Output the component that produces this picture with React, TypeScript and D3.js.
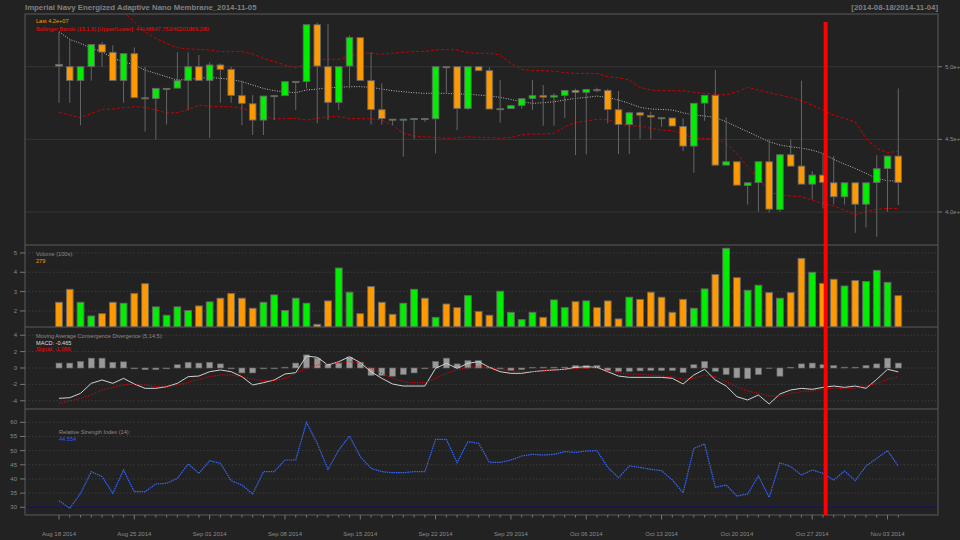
import React, { useEffect, useRef } from 'react';
import * as d3 from 'd3';

// daily bars, Aug 18 .. Nov 04 2014, prices in millions
const firstDay = new Date(2014, 7, 18);
const lastDay = new Date(2014, 10, 4);

const opens = [
  50.16, 50.0, 49.06, 50.02, 51.52, 50.99, 49.06, 50.9, 47.86, 47.82,
  48.5, 48.53, 49.06, 50.0, 49.06, 50.12, 49.82, 48.01, 47.45, 46.33,
  48.0, 48.01, 48.98, 48.99, 52.89, 50.0, 47.55, 50.05, 52.0, 49.04,
  47.04, 46.39, 46.37, 46.42, 46.43, 46.42, 50.0, 50.0, 47.13, 50.0,
  49.73, 47.1, 47.13, 47.34, 47.82, 48.01, 47.91, 48.03, 48.37, 48.24,
  48.42, 48.37, 47.04, 46.03, 46.83, 46.65, 46.49, 46.47, 45.89, 44.54,
  47.5, 48.03, 43.23, 43.46, 41.83, 42.04, 43.46, 40.18, 43.94, 43.16,
  41.92, 42.54, 42.01, 41.05, 42.01, 40.54, 42.04, 43.0, 43.85,
];
const highs = [
  52.41, 51.88, 50.0, 51.52, 51.7, 51.47, 50.9, 51.33, 50.0, 48.51,
  48.51, 50.99, 50.99, 50.81, 50.3, 50.23, 50.0, 49.04, 48.05, 47.98,
  48.01, 48.97, 48.99, 52.89, 53.03, 52.94, 50.0, 52.16, 52.0, 50.99,
  48.86, 46.39, 46.39, 46.43, 46.43, 50.0, 50.0, 50.0, 50.0, 50.0,
  49.96, 49.08, 47.32, 47.8, 49.08, 48.74, 48.17, 48.37, 48.49, 48.44,
  48.56, 48.49, 48.33, 46.9, 46.9, 46.9, 46.49, 46.47, 46.44, 47.48,
  48.03, 49.77, 46.51, 43.46, 42.01, 43.46, 45.0, 43.94, 45.0, 49.04,
  42.82, 44.03, 43.85, 42.01, 42.01, 42.01, 43.92, 43.85, 48.51,
];
const lows = [
  47.52, 47.52, 45.98, 49.04, 50.0, 49.06, 47.52, 47.87, 45.53, 45.0,
  46.03, 48.53, 47.02, 49.06, 45.11, 47.52, 47.52, 45.98, 45.3, 45.3,
  46.33, 48.01, 47.02, 48.51, 46.1, 46.33, 47.02, 48.51, 49.06, 46.03,
  46.03, 45.98, 43.8, 45.0, 46.21, 44.03, 48.17, 45.64, 47.02, 49.73,
  47.09, 46.15, 47.09, 47.11, 47.02, 45.94, 45.94, 46.47, 43.92, 43.97,
  48.24, 46.1, 43.99, 43.99, 45.0, 45.0, 45.87, 45.92, 44.2, 42.7,
  46.28, 43.16, 43.23, 41.85, 40.52, 40.02, 39.97, 40.02, 43.16, 41.92,
  40.86, 40.25, 40.52, 40.52, 38.57, 38.94, 38.3, 40.02, 40.48,
];
const closes = [
  50.05, 49.06, 50.0, 51.52, 51.01, 49.06, 50.9, 47.87, 47.84, 48.51,
  48.51, 49.04, 50.0, 49.06, 50.12, 49.82, 48.03, 47.48, 46.33, 47.98,
  48.01, 48.97, 48.99, 52.89, 50.05, 47.55, 50.0, 52.0, 49.06, 47.06,
  46.44, 46.37, 46.39, 46.43, 46.42, 50.0, 49.99, 47.13, 50.0, 49.73,
  47.09, 47.11, 47.32, 47.8, 48.01, 47.91, 48.01, 48.37, 48.24, 48.44,
  48.41, 47.06, 46.03, 46.83, 46.67, 46.54, 46.48, 45.92, 44.54, 47.48,
  48.03, 43.23, 43.46, 41.85, 42.01, 43.46, 40.2, 43.94, 43.16, 41.92,
  42.54, 42.04, 41.05, 42.01, 40.54, 42.01, 42.98, 43.85, 42.04,
];
// volume in the panel's own units (100s)
const volumes = [
  2.45, 3.12, 2.45, 1.74, 1.86, 2.45, 2.4, 2.91, 3.41, 2.21,
  1.78, 2.21, 2.02, 2.26, 2.47, 2.66, 2.91, 2.66, 2.14, 2.45,
  2.83, 2.02, 2.66, 2.4, 1.31, 2.52, 4.22, 2.97, 1.86, 3.26,
  2.45, 1.83, 2.4, 3.12, 2.66, 1.67, 2.36, 2.17, 2.79, 1.97,
  1.78, 3.02, 1.93, 1.55, 1.93, 1.67, 2.57, 2.17, 2.48, 2.52,
  2.17, 2.52, 1.59, 2.71, 2.6, 2.97, 2.71, 1.93, 2.6, 2.14,
  3.14, 3.88, 5.24, 3.72, 3.07, 3.33, 2.95, 2.66, 2.95, 4.72,
  4.0, 3.43, 3.64, 3.29, 3.57, 3.52, 4.1, 3.48, 2.79,
];
const bbUpper = [
  57.96, 57.09, 56.73, 55.75, 55.02, 54.07, 53.72, 53.1, 52.41, 51.95,
  51.61, 51.31, 51.22, 51.2, 51.15, 51.04, 51.04, 51.04, 50.87, 50.58,
  50.35, 50.12, 49.93, 50.23, 50.51, 50.51, 50.51, 50.69, 50.97, 50.92,
  50.87, 50.92, 50.99, 51.04, 51.06, 51.15, 51.2, 51.15, 50.97, 50.92,
  50.92, 50.81, 50.23, 49.82, 49.73, 49.73, 49.7, 49.59, 49.54, 49.54,
  49.54, 49.31, 49.24, 49.08, 48.58, 48.4, 48.35, 48.35, 48.35, 48.24,
  48.17, 48.1, 48.05, 48.28, 48.58, 48.4, 48.21, 48.05, 47.89, 47.66,
  47.36, 47.02, 46.67, 46.44, 46.21, 45.07, 44.38, 44.08, 44.19,
];
const bbMid = [
  52.41, 51.88, 51.61, 51.27, 51.04, 50.58, 50.35, 50.12, 49.77, 49.54,
  49.31, 49.08, 49.13, 49.2, 49.27, 49.2, 49.13, 48.97, 48.74, 48.51,
  48.35, 48.28, 48.21, 48.4, 48.46, 48.56, 48.58, 48.63, 48.63, 48.58,
  48.46, 48.35, 48.28, 48.21, 48.17, 48.17, 48.17, 48.12, 48.12, 48.05,
  48.0, 47.89, 47.75, 47.59, 47.48, 47.52, 47.59, 47.71, 47.82, 47.89,
  47.98, 47.89, 47.71, 47.48, 47.2, 47.09, 47.06, 47.02, 46.83, 46.67,
  46.61, 46.51, 46.21, 45.87, 45.53, 45.18, 44.84, 44.61, 44.49, 44.4,
  44.26, 44.03, 43.62, 43.3, 43.0, 42.66, 42.31, 42.15, 42.13,
];
const bbLower = [
  46.86, 46.67, 46.49, 46.79, 47.06, 47.09, 47.18, 47.25, 47.2, 47.02,
  46.83, 46.83, 47.06, 47.36, 47.29, 47.25, 47.25, 47.13, 46.9, 46.61,
  46.4, 46.44, 46.44, 46.33, 46.44, 46.56, 46.56, 46.44, 46.42, 46.42,
  46.33, 45.98, 45.41, 45.23, 45.18, 45.14, 45.07, 45.11, 45.18, 45.14,
  45.14, 45.07, 45.14, 45.3, 45.37, 45.37, 45.41, 45.87, 46.17, 46.26,
  46.38, 46.38, 46.1, 45.92, 45.92, 45.76, 45.64, 45.6, 45.37, 45.07,
  45.07, 45.07, 44.72, 44.03, 43.12, 42.31, 41.39, 41.16, 41.1, 41.05,
  40.82, 40.59, 40.41, 40.13, 39.79, 40.02, 40.18, 40.25, 40.25,
];
const macdLine = [
  -3.7, -3.62, -3.09, -1.87, -1.46, -1.87, -1.26, -1.95, -2.48, -2.48,
  -2.28, -1.87, -1.06, -0.98, -0.45, -0.24, -0.45, -1.06, -2.07, -1.79,
  -1.46, -0.73, -0.57, 1.46, 1.3, 0.37, 0.77, 1.38, 0.65, -0.45,
  -1.26, -1.95, -2.2, -2.2, -2.2, -0.04, 0.57, -0.04, 0.57, 0.77,
  0.08, -0.45, -0.65, -0.65, -0.45, -0.33, -0.24, -0.16, 0.08, 0.16,
  0.08, -0.45, -0.98, -1.14, -1.14, -1.14, -1.14, -1.26, -1.95, -0.85,
  -0.16, -1.46, -2.2, -3.5, -3.9, -3.29, -4.39, -3.17, -2.68, -2.48,
  -2.6, -2.36, -2.2, -2.36, -2.2, -2.48, -1.38, -0.16, -0.47,
];
const signalLine = [
  -4.31, -4.02, -3.7, -3.29, -2.68, -2.36, -2.07, -1.95, -2.07, -2.28,
  -2.28, -2.07, -1.79, -1.38, -1.06, -0.85, -0.85, -1.06, -1.38, -1.54,
  -1.54, -1.26, -0.65, -0.04, 0.37, 0.57, 0.65, 0.77, 0.57, -0.04,
  -0.65, -1.26, -1.67, -1.79, -1.79, -1.26, -0.65, -0.24, 0.08, 0.16,
  0.08, -0.16, -0.33, -0.45, -0.45, -0.33, -0.24, -0.16, -0.08, -0.04,
  0.08, -0.33, -0.57, -0.73, -0.77, -0.85, -0.98, -1.06, -1.38, -1.26,
  -0.85, -1.06, -1.67, -2.28, -2.81, -3.09, -3.41, -3.41, -3.09, -2.89,
  -2.81, -2.6, -2.48, -2.48, -2.48, -2.2, -1.87, -1.38, -1.07,
];
const macdHist = [
  0.6, 0.6, 0.8, 1.2, 1.2, 0.7, 0.75, -0.1, -0.2, -0.2,
  -0.1, 0.4, 0.7, 0.6, 0.7, 0.5, -0.1, -0.6, -0.6, -0.1,
  -0.1, 0.1, 0.6, 1.6, 1.2, 0.4, 0.6, 1.3, 0.7, -0.9,
  -0.9, -1.0, -0.8, -0.6, -0.1, 0.8, 1.2, 0.5, 0.9, 0.9,
  0.1, -0.1, -0.3, -0.2, 0.05, 0.1, 0.1, 0.1, 0.3, 0.3,
  0.3, -0.3, -0.4, -0.4, -0.35, -0.3, -0.3, -0.3, -0.55, 0.4,
  0.8, -0.4, -0.8, -1.2, -1.3, -0.8, -0.05, -1.0, 0.1, 0.5,
  0.6, 0.4, 0.3, 0.1, 0.1, 0.3, 0.5, 1.2, 0.6,
];
const rsi14 = [
  32.34, 29.63, 34.93, 42.58, 40.81, 34.93, 43.16, 35.52, 35.52, 38.22,
  38.46, 40.22, 45.28, 41.99, 46.46, 45.52, 39.4, 37.87, 34.69, 42.58,
  42.58, 46.69, 46.69, 59.99, 52.58, 43.4, 50.22, 55.16, 47.87, 43.75,
  42.58, 42.22, 42.22, 42.58, 42.58, 53.99, 53.99, 45.75, 53.16, 52.58,
  45.87, 45.87, 46.69, 48.1, 48.69, 48.46, 48.69, 49.63, 49.4, 49.87,
  49.99, 44.1, 40.46, 44.58, 44.1, 43.4, 42.93, 39.63, 35.16, 50.81,
  52.34, 37.05, 37.87, 33.99, 34.69, 41.05, 33.52, 45.75, 44.34, 41.4,
  43.16, 41.99, 39.63, 42.81, 39.4, 44.58, 47.28, 49.99, 44.55,
];

const priceTicks = [40, 45, 50];
const volumeTicks = [2, 3, 4, 5];
const macdTicks = [-4, -2, 0, 2, 4];
const rsiTicks = [30, 35, 40, 45, 50, 55, 60];
const rsiOversold = 30;
const markerDay = 71.25; // red vertical marker

const title = 'Imperial Navy Energized Adaptive Nano Membrane_2014-11-05';

const UP = '#00ee00';
const DOWN = '#ff9900';
const FONT = '"Liberation Sans", Arial, sans-serif';

const App: React.FC = () => {
  const svgRef = useRef<SVGSVGElement>(null);

  useEffect(() => {
    const svg = d3.select(svgRef.current!);
    svg.selectAll('*').remove();

    const left = 25;
    const right = 938;
    const panels = {
      main: [14, 245],
      vol: [245, 327],
      macd: [327, 409],
      rsi: [409, 515],
    };
    const days = d3.range(closes.length);
    const dates = d3.timeDay.range(firstDay, d3.timeDay.offset(lastDay, 1));

    const x = d3.scaleLinear().domain([-3.16, 81.69]).range([left, right]);
    const yPrice = d3.scaleLinear().domain([37.73, 53.63]).range(panels.main.slice().reverse());
    const yVol = d3.scaleLinear().domain([1.17, 5.41]).range(panels.vol.slice().reverse());
    const yMacd = d3.scaleLinear().domain([-5, 5]).range(panels.macd.slice().reverse());
    const yRsi = d3.scaleLinear().domain([27.28, 64.7]).range(panels.rsi.slice().reverse());

    svg.append('rect').attr('width', 960).attr('height', 540).attr('fill', '#222222');

    const defs = svg.append('defs');
    Object.entries(panels).forEach(([k, [t, b]]) => {
      defs.append('clipPath').attr('id', `clip-${k}`)
        .append('rect').attr('x', left).attr('y', t).attr('width', right - left).attr('height', b - t);
    });

    // grid lines
    const grid = svg.append('g');
    grid.selectAll('line.pg').data(priceTicks).join('line')
      .attr('x1', left).attr('x2', right)
      .attr('y1', (d) => yPrice(d)).attr('y2', (d) => yPrice(d))
      .attr('stroke', '#353535').attr('stroke-width', 1);
    const dotted = (ticks: number[], y: d3.ScaleLinear<number, number>) => {
      grid.append('g').selectAll('line').data(ticks).join('line')
        .attr('x1', left).attr('x2', right)
        .attr('y1', (d) => y(d)).attr('y2', (d) => y(d))
        .attr('stroke', '#3c3c3c').attr('stroke-dasharray', '1.5,2');
    };
    dotted(volumeTicks, yVol);
    dotted(macdTicks, yMacd);
    dotted(rsiTicks, yRsi);

    // --- main panel ---
    const main = svg.append('g').attr('clip-path', 'url(#clip-main)');
    const line = (y: d3.ScaleLinear<number, number>, vals: number[]) =>
      d3.line<number>().x((i) => x(i)).y((i) => y(vals[i]))(days);

    main.append('path').attr('d', line(yPrice, bbUpper)).attr('fill', 'none')
      .attr('stroke', '#cc0000').attr('stroke-dasharray', '3,2');
    main.append('path').attr('d', line(yPrice, bbLower)).attr('fill', 'none')
      .attr('stroke', '#cc0000').attr('stroke-dasharray', '3,2');
    main.append('path').attr('d', line(yPrice, bbMid)).attr('fill', 'none')
      .attr('stroke', '#bbbbbb').attr('stroke-dasharray', '1,1.5');

    const isUp = (i: number) => closes[i] >= opens[i];
    const bodyW = 6.6;
    main.selectAll('line.wick').data(days).join('line')
      .attr('x1', (i) => x(i)).attr('x2', (i) => x(i))
      .attr('y1', (i) => yPrice(highs[i])).attr('y2', (i) => yPrice(lows[i]))
      .attr('stroke', '#666666').attr('stroke-width', 1);
    main.selectAll('rect.body').data(days).join('rect')
      .attr('x', (i) => x(i) - bodyW / 2)
      .attr('y', (i) => yPrice(Math.max(opens[i], closes[i])))
      .attr('width', bodyW)
      .attr('height', (i) => Math.max(1, Math.abs(yPrice(opens[i]) - yPrice(closes[i]))))
      .attr('fill', (i) => (isUp(i) ? UP : DOWN))
      .attr('stroke', '#666666').attr('stroke-width', 0.9);

    // --- volume ---
    const volG = svg.append('g').attr('clip-path', 'url(#clip-vol)');
    const volW = 6.8;
    volG.selectAll('rect').data(days).join('rect')
      .attr('x', (i) => x(i) - volW / 2)
      .attr('y', (i) => yVol(volumes[i]))
      .attr('width', volW)
      .attr('height', (i) => panels.vol[1] - yVol(volumes[i]))
      .attr('fill', (i) => (isUp(i) ? UP : DOWN))
      .attr('stroke', '#666666').attr('stroke-width', 0.9);

    // --- MACD ---
    const macdG = svg.append('g').attr('clip-path', 'url(#clip-macd)');
    const histW = 6;
    macdG.selectAll('rect').data(days).join('rect')
      .attr('x', (i) => x(i) - histW / 2)
      .attr('y', (i) => Math.min(yMacd(0), yMacd(macdHist[i])))
      .attr('width', histW)
      .attr('height', (i) => Math.abs(yMacd(macdHist[i]) - yMacd(0)))
      .attr('fill', '#999999').attr('stroke', '#666666').attr('stroke-width', 0.6);
    macdG.append('path').attr('d', line(yMacd, macdLine)).attr('fill', 'none')
      .attr('stroke', '#d0d0d0').attr('stroke-width', 1);
    macdG.append('path').attr('d', line(yMacd, signalLine)).attr('fill', 'none')
      .attr('stroke', '#ff0000').attr('stroke-dasharray', '1,1.5').attr('stroke-width', 1);

    // --- RSI ---
    const rsiG = svg.append('g').attr('clip-path', 'url(#clip-rsi)');
    rsiG.append('line').attr('x1', left).attr('x2', right)
      .attr('y1', yRsi(rsiOversold)).attr('y2', yRsi(rsiOversold))
      .attr('stroke', '#0000dd').attr('stroke-width', 1);
    rsiG.append('path').attr('d', line(yRsi, rsi14)).attr('fill', 'none')
      .attr('stroke', '#3366ff').attr('stroke-width', 1.2).attr('stroke-dasharray', '1.5,0.8');

    // frames
    const frame = svg.append('g').attr('fill', 'none').attr('stroke', '#5a5a5a');
    frame.append('rect').attr('x', left).attr('y', panels.main[0])
      .attr('width', right - left).attr('height', panels.rsi[1] - panels.main[0]);
    [panels.vol[0], panels.macd[0], panels.rsi[0]].forEach((y) => {
      frame.append('line').attr('x1', left).attr('x2', right).attr('y1', y).attr('y2', y);
    });

    // axes
    const axis = svg.append('g').attr('font-family', FONT).attr('font-size', 6).attr('fill', '#8a8a8a');
    priceTicks.forEach((t) => {
      axis.append('line').attr('x1', right).attr('x2', right + 4)
        .attr('y1', yPrice(t)).attr('y2', yPrice(t)).attr('stroke', '#777');
      axis.append('text').attr('x', right + 7).attr('y', yPrice(t) + 2)
        .text(`${(t / 10).toFixed(1)}e+07`);
    });
    const leftAxis = (ticks: number[], y: d3.ScaleLinear<number, number>) => {
      ticks.forEach((t) => {
        axis.append('line').attr('x1', left - 5).attr('x2', left)
          .attr('y1', y(t)).attr('y2', y(t)).attr('stroke', '#777');
        axis.append('text').attr('x', left - 8).attr('y', y(t) + 2)
          .attr('text-anchor', 'end').text(String(t));
      });
    };
    leftAxis(volumeTicks, yVol);
    leftAxis(macdTicks, yMacd);
    leftAxis(rsiTicks, yRsi);

    const fmt = d3.timeFormat('%b %d %Y');
    dates.forEach((d, i) => {
      const major = d.getDay() === 1;
      axis.append('line').attr('x1', x(i)).attr('x2', x(i))
        .attr('y1', panels.rsi[1]).attr('y2', panels.rsi[1] + (major ? 4.5 : 2.5))
        .attr('stroke', '#777');
      if (major) {
        axis.append('text').attr('x', x(i)).attr('y', 536)
          .attr('text-anchor', 'middle').text(fmt(d));
      }
    });

    // marker
    svg.append('line').attr('x1', x(markerDay)).attr('x2', x(markerDay))
      .attr('y1', 22).attr('y2', panels.rsi[1])
      .attr('stroke', '#ff0000').attr('stroke-width', 4);

    // titles & legends
    const txt = svg.append('g').attr('font-family', FONT);
    txt.append('text').attr('x', left).attr('y', 10).attr('font-size', 7.8)
      .attr('font-weight', 'bold').attr('fill', '#808080').text(title);
    txt.append('text').attr('x', right).attr('y', 10).attr('font-size', 7.8)
      .attr('font-weight', 'bold').attr('fill', '#808080').attr('text-anchor', 'end')
      .text(`[${d3.timeFormat('%Y-%m-%d')(firstDay)}/${d3.timeFormat('%Y-%m-%d')(lastDay)}]`);

    const lastClose = closes[closes.length - 1] * 1e6;
    const legend = (xx: number, yy: number, s: string, c: string) =>
      txt.append('text').attr('x', xx).attr('y', yy).attr('font-size', 5.6).attr('fill', c).text(s);
    legend(36, 23, `Last ${lastClose.toExponential(1).replace('e+7', 'e+07')}`, DOWN);
    legend(36, 30.5, 'Bollinger Bands (15,1.8) [Upper/Lower]: 44148647.752/40201869.280', '#ff0000');
    legend(36, 256, 'Volume (100s):', '#8a8a8a');
    legend(36, 263, (volumes[volumes.length - 1] * 100).toFixed(0), DOWN);
    legend(36, 338, 'Moving Average Convergence Divergence (5,14,5):', '#8a8a8a');
    legend(36, 344.5, 'MACD: -0.465', '#dddddd');
    legend(36, 351, 'Signal: -1.066', '#ff0000');
    legend(59, 434, 'Relative Strength Index (14):', '#8a8a8a');
    legend(59, 441, '44.554', '#3355ff');
  }, []);

  return (
    <svg
      ref={svgRef}
      width={960}
      height={540}
      style={{ position: 'absolute', left: 0, top: 0, display: 'block' }}
    />
  );
};

export default App;
